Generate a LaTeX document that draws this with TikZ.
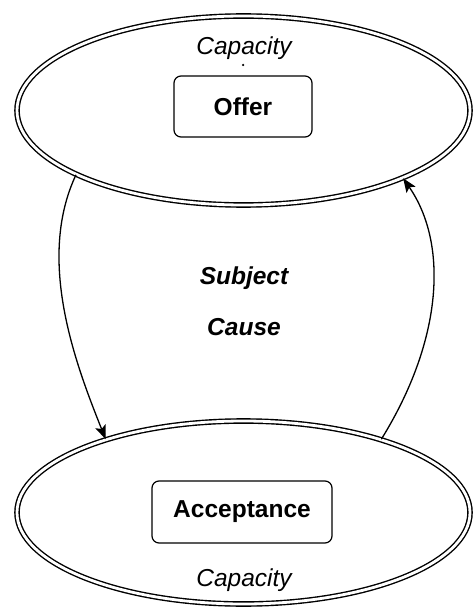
\documentclass[tikz,border=0pt]{standalone}
\usepackage{fontspec}
\setmainfont{Liberation Sans}
\usepackage{tikz}
\usetikzlibrary{shapes.geometric, arrows.meta, positioning}
\tikzstyle{scopering} = [ellipse, draw=black, double, double distance=2.8pt, line width=1.4pt, inner sep=0pt, minimum width=453pt]
\tikzstyle{party} = [rectangle, rounded corners=7pt, draw=black, line width=1.2pt, text centered, font=\bfseries\fontsize{24.5}{28}\selectfont]
\tikzstyle{note} = [font=\itshape\fontsize{24.5}{28}\selectfont]
\tikzstyle{arrow} = [line width=1.3pt,-{Stealth[length=14pt,width=11pt,inset=3pt]}]

\begin{document}
\begin{tikzpicture}[x=1pt, y=-1pt]
    \useasboundingbox (0,0) rectangle (474,609);

    % Oferta
    \node (offerring) [scopering, minimum height=189pt] at (243.5,110.5) {};
    \node (offer) [party, minimum width=138pt, minimum height=61pt] at (243,106.5) {Offer};
    \node (capoffer) [note] at (244,48) {Capacity};
    \node (dot) [circle, fill=black, inner sep=0pt, minimum size=2.5pt] at (243,65) {};

    % Aceptacion
    \node (acceptring) [scopering, minimum height=183pt] at (243.5,512.5) {};
    \node (accept) [party, minimum width=180pt, minimum height=62pt] at (242,512) {Acceptance};
    \node (capaccept) [note] at (244,580) {Capacity};

    % Centro
    \node (subject) [note, font=\bfseries\itshape\fontsize{24.5}{28}\selectfont] at (244,278) {Subject};
    \node (cause) [note, font=\bfseries\itshape\fontsize{24.5}{28}\selectfont] at (244,327) {Cause};

    % Flechas
    \draw [arrow] (offerring.201) .. controls +(-40,85) and +(-30,-75) .. (acceptring.152);
    \draw [arrow] (acceptring.28) .. controls +(62,-100) and +(45,65) .. (offerring.337);

\end{tikzpicture}
\end{document}
